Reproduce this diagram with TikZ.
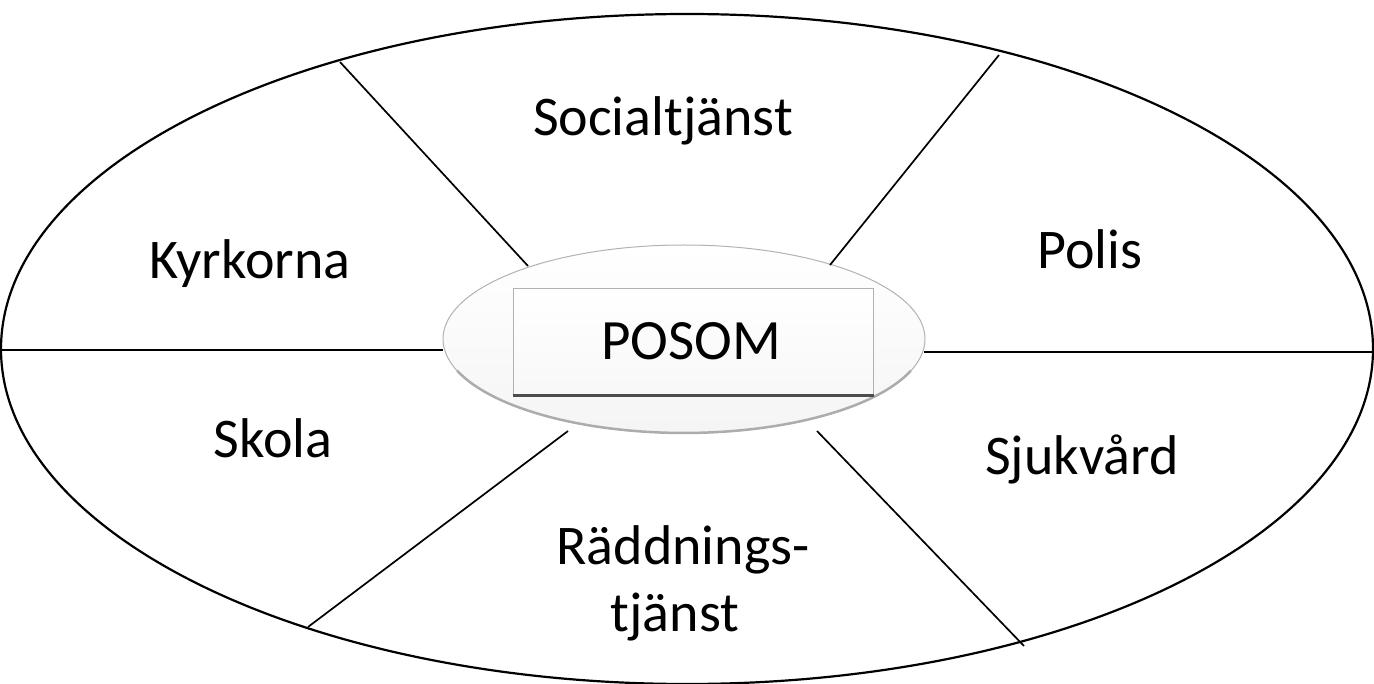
\documentclass[tikz,border=0pt]{standalone}
\usepackage{fontspec}
\setmainfont{Carlito}
\usetikzlibrary{shapes.geometric}
\begin{document}
\begin{tikzpicture}[x=1pt,y=-1pt,
  lbl/.style={anchor=base,inner sep=0pt,font=\fontsize{56}{66}\selectfont},
  spoke/.style={line width=1.7pt,black}]
\useasboundingbox (0,0) rectangle (1374,684);
% outer ellipse
\node[draw,line width=2.2pt,ellipse,minimum width=1372pt,minimum height=670pt,inner sep=0pt] (outer) at (687,349) {};
% inner ellipse
\node[draw=gray!60,line width=1pt,ellipse,minimum width=482pt,minimum height=188pt,inner sep=0pt,
  top color=white,bottom color=gray!8] (inner) at (684,339) {};
\draw[line width=2.5pt,gray!65,line cap=round] (910.5,371.1) arc[start angle=20,end angle=160,x radius=241,y radius=94];
% POSOM box
\node[draw=gray!60,line width=1pt,minimum width=360pt,minimum height=106pt,inner sep=0pt,
  top color=white,bottom color=gray!6] (box) at (693,342) {};
\draw[line width=3pt,gray!60!black] (box.south west) -- (box.south east);
\node[anchor=base,inner sep=0pt,font=\fontsize{57}{66}\selectfont] (posom) at (691,360) {POSOM};
% spoke coordinates
\coordinate (o1) at (340,62);
\coordinate (i1) at (528,266);
\coordinate (o2) at (999,55);
\coordinate (i2) at (830,265);
\coordinate (o3) at (0,350);
\coordinate (i3) at (443,350);
\coordinate (o4) at (1374,352);
\coordinate (i4) at (924,352);
\coordinate (o5) at (308,627);
\coordinate (i5) at (568,431);
\coordinate (o6) at (1024,646);
\coordinate (i6) at (817,431);
\foreach \k in {1,...,6} {\draw[spoke] (o\k) -- (i\k);}
% labels
\node[lbl] (soc) at (663,136) {Socialtjänst};
\node[lbl] (kyr) at (250,279) {Kyrkorna};
\node[lbl] (pol) at (1090,269) {Polis};
\node[lbl] (sko) at (273,457) {Skola};
\node[lbl] (sju) at (1082,475) {Sjukvård};
\node[lbl] (rad) at (683,564) {Räddnings-};
\node[lbl] (tja) at (675,631) {tjänst};
\end{tikzpicture}
\end{document}
